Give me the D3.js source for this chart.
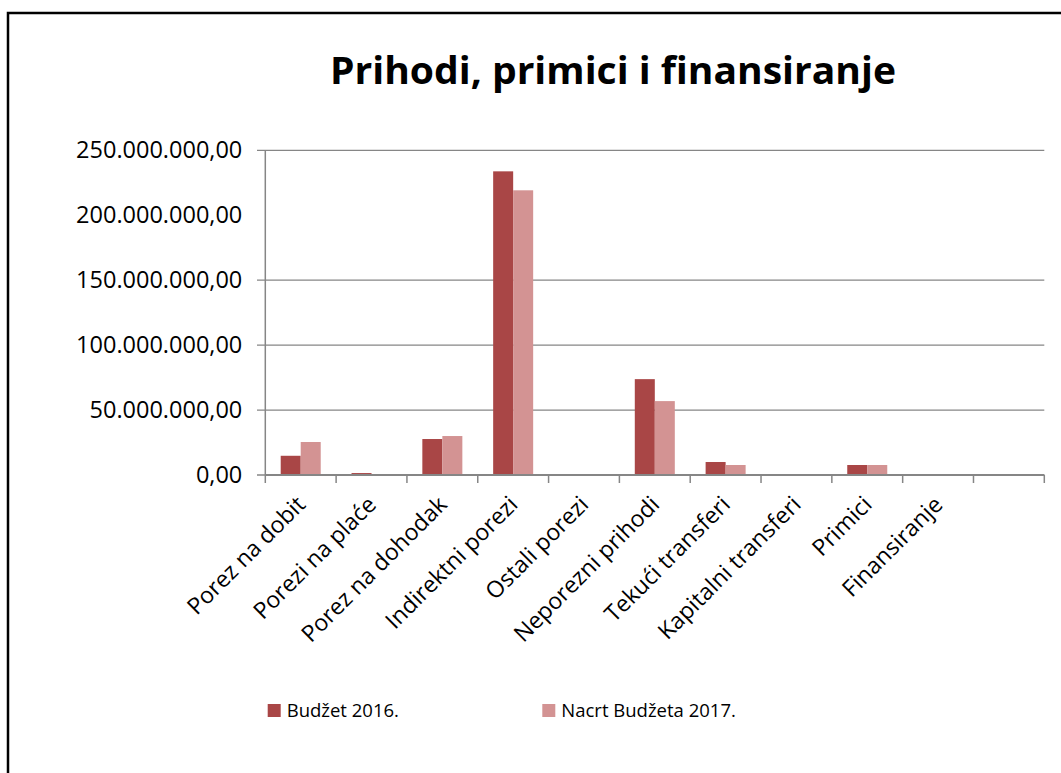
<!DOCTYPE html>
<html><head><meta charset="utf-8">
<script src="https://cdn.jsdelivr.net/npm/d3@7"></script>
<style>body{margin:0;background:#fff} svg{display:block}</style>
</head><body><svg id="c" width="1061" height="773"></svg>
<script>
const title = "Prihodi, primici i finansiranje";
const categories = ["Porez na dobit","Porezi na plaće","Porez na dohodak","Indirektni porezi","Ostali porezi","Neporezni prihodi","Tekući transferi","Kapitalni transferi","Primici","Finansiranje",""];
const seriesNames = ["Budžet 2016.","Nacrt Budžeta 2017."];
const budzet2016 = [14800000,1500000,27700000,233800000,0,73800000,10000000,0,7700000,0,0];
const nacrt2017 = [25400000,0,30000000,219200000,0,56900000,7700000,0,7700000,0,0];
const yTicks = [0,50000000,100000000,150000000,200000000,250000000];
const gridValues = [0,50000000,100000000,150000000,250000000];
const colors = ["#a94646","#d39393"];

(function(){
const svg = d3.select("#c");
const FONT = "'Open Sans', sans-serif";
const pL = 265.3, pR = 1044.3, pT = 150.3, pB = 475;

// border
svg.append("path").attr("d",`M8,773V13H1061`).attr("fill","none").attr("stroke","#000").attr("stroke-width",2.5);

// title
svg.append("text").attr("x",613).attr("y",83.5).attr("text-anchor","middle")
  .attr("font-family",FONT).attr("font-weight","bold").attr("font-size",37).attr("fill","#000")
  .attr("textLength",566).attr("lengthAdjust","spacingAndGlyphs").text(title);

const x = d3.scaleBand().domain(d3.range(categories.length)).range([pL,pR]).paddingInner(0).paddingOuter(0);
const xs = d3.scaleBand().domain([0,1]).range([0,x.bandwidth()]).paddingInner(0).paddingOuter(0.77);
const y = d3.scaleLinear().domain([0,250000000]).range([pB,pT]);
const loc = d3.formatLocale({decimal:",",thousands:".",grouping:[3],currency:["",""]});
const fmt = loc.format(",.2f");

// gridlines + y ticks
svg.append("g").selectAll("line").data(gridValues).join("line")
  .attr("x1",257).attr("x2",pR).attr("y1",d=>y(d)).attr("y2",d=>y(d))
  .attr("stroke","#868686").attr("stroke-width",1.3);

// y axis labels via d3 axis
const ya = svg.append("g").attr("transform",`translate(${pL},0)`)
  .call(d3.axisLeft(y).tickValues(yTicks).tickFormat(fmt).tickSize(0).tickPadding(23));
ya.select(".domain").remove();
ya.selectAll("text").attr("font-family",FONT).attr("font-size",23.5).attr("fill","#000");

// bars
const series = [budzet2016, nacrt2017];
series.forEach((vals,si)=>{
  svg.append("g").selectAll("rect").data(vals).join("rect")
    .attr("x",(d,i)=>x(i)+xs(si)).attr("width",xs.bandwidth())
    .attr("y",d=>y(d)).attr("height",d=>pB-y(d)).attr("fill",colors[si]);
});

// y axis line
svg.append("line").attr("x1",pL).attr("x2",pL).attr("y1",pT).attr("y2",pB)
  .attr("stroke","#868686").attr("stroke-width",1.5);
// x axis line
svg.append("line").attr("x1",pL).attr("x2",pR).attr("y1",pB).attr("y2",pB)
  .attr("stroke","#868686").attr("stroke-width",2);
// x ticks at band boundaries
svg.append("g").selectAll("line").data(d3.range(categories.length+1)).join("line")
  .attr("x1",i=>pL+i*x.step()).attr("x2",i=>pL+i*x.step())
  .attr("y1",pB).attr("y2",pB+8).attr("stroke","#868686").attr("stroke-width",1.5);

// category labels
svg.append("g").selectAll("text").data(categories).join("text")
  .attr("transform",(d,i)=>`translate(${x(i)+x.bandwidth()/2+6},${pB+31}) rotate(-45)`)
  .attr("text-anchor","end").attr("font-family",FONT).attr("font-size",23).attr("fill","#000")
  .text(d=>d);

// legend
const legX = [267.7, 542.3];
const lg = svg.append("g");
seriesNames.forEach((n,i)=>{
  lg.append("rect").attr("x",legX[i]).attr("y",704).attr("width",13).attr("height",13).attr("fill",colors[i]);
  lg.append("text").attr("x",legX[i]+19).attr("y",717).attr("font-family",FONT).attr("font-size",18.5)
    .attr("fill","#000").text(n);
});
})();
</script></body></html>
